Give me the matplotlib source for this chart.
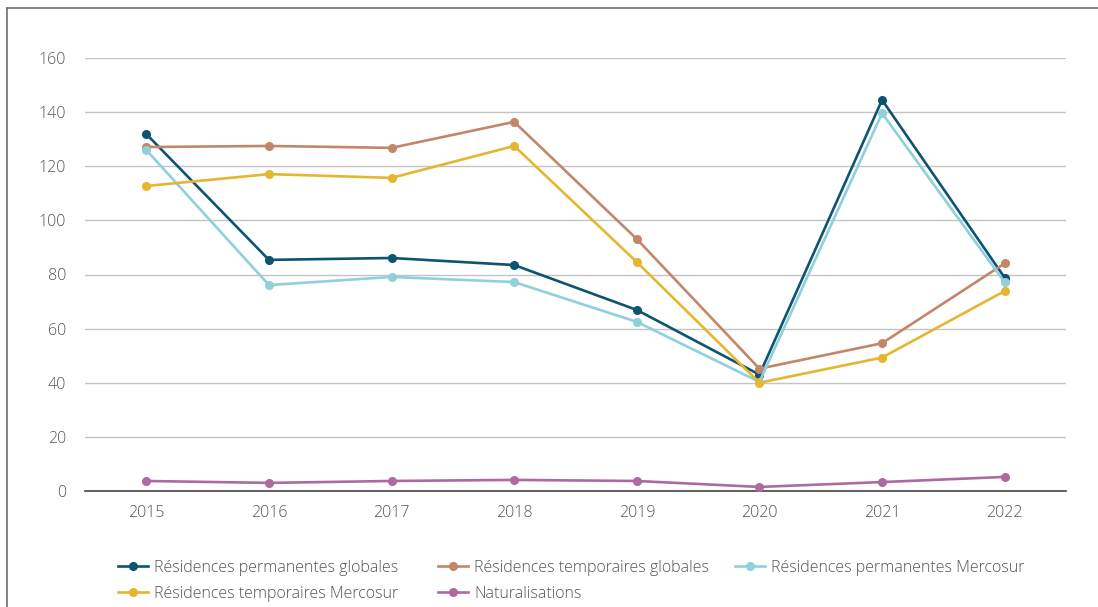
import matplotlib
matplotlib.use("Agg")
import matplotlib.pyplot as plt
from matplotlib.lines import Line2D

plt.rcParams['font.family'] = ['Open Sans', 'DejaVu Sans']
plt.rcParams['font.weight'] = 'light'

years = [2015, 2016, 2017, 2018, 2019, 2020, 2021, 2022]
perm_globales = [131.9, 85.4, 86.1, 83.5, 66.9, 43.0, 144.5, 78.8]
temp_globales = [127.1, 127.5, 126.8, 136.4, 93.1, 45.2, 54.6, 84.1]
perm_mercosur = [126.0, 76.1, 79.1, 77.2, 62.5, 40.3, 139.6, 77.1]
temp_mercosur = [112.7, 117.1, 115.7, 127.5, 84.6, 40.0, 49.3, 73.9]
naturalisations = [3.7, 3.0, 3.7, 4.1, 3.7, 1.5, 3.3, 5.2]

labels = [
    "Résidences permanentes globales",
    "Résidences temporaires globales",
    "Résidences permanentes Mercosur",
    "Résidences temporaires Mercosur",
    "Naturalisations",
]
colors = ["#0d5372", "#c2876a", "#8fd0db", "#e5b630", "#ad6aa0"]
series = [perm_globales, temp_globales, perm_mercosur, temp_mercosur, naturalisations]
y_ticks = [0, 20, 40, 60, 80, 100, 120, 140, 160]

W, H = 1098, 607
fig = plt.figure(figsize=(W / 100, H / 100), dpi=100)
ax = fig.add_axes([85 / W, 1 - 491 / H, (1066 - 85) / W, (491 - 58) / H])

handles = []
for vals, col, lab in zip(series, colors, labels):
    h, = ax.plot(years, vals, color=col, lw=1.9, marker='o', ms=5.5,
                 label=lab, solid_joinstyle='round', zorder=3)
    handles.append(h)

ax.set_xlim(2014.5, 2022.5)
ax.set_ylim(0, 160)
ax.set_yticks(y_ticks)
ax.set_xticks(years)
ax.set_xticklabels([str(y) for y in years])
ax.grid(axis='y', color='#c4c4c4', lw=1.0)
ax.set_axisbelow(True)
for s in ['top', 'right', 'left']:
    ax.spines[s].set_visible(False)
ax.spines['bottom'].set_color('#444444')
ax.spines['bottom'].set_linewidth(1.2)
ax.tick_params(length=0, labelsize=11.5, labelcolor='#555555', pad=10)
ax.tick_params(axis='y', pad=13.5)

# Legend laid out as three columns, filled row by row
columns = [([0, 3], 118), ([1, 4], 438), ([2], 735)]
for idx, x0 in columns:
    leg = fig.legend([handles[i] for i in idx], [labels[i] for i in idx],
                     loc='upper left', bbox_to_anchor=(x0 / W, 1 - 560 / H),
                     ncol=1, frameon=False, fontsize=11.5, borderpad=0,
                     handlelength=1.9, handletextpad=0.35,
                     labelspacing=0.6, borderaxespad=0)
    for t in leg.get_texts():
        t.set_color('#555555')

# Outer frame (left and top edges)
fig.add_artist(Line2D([7 / W, 7 / W], [0, 1 - 8 / H], transform=fig.transFigure,
                      color='#707070', lw=1.2))
fig.add_artist(Line2D([7 / W, 1], [1 - 8 / H, 1 - 8 / H], transform=fig.transFigure,
                      color='#707070', lw=1.2))

fig.savefig("out.png", dpi=100)
